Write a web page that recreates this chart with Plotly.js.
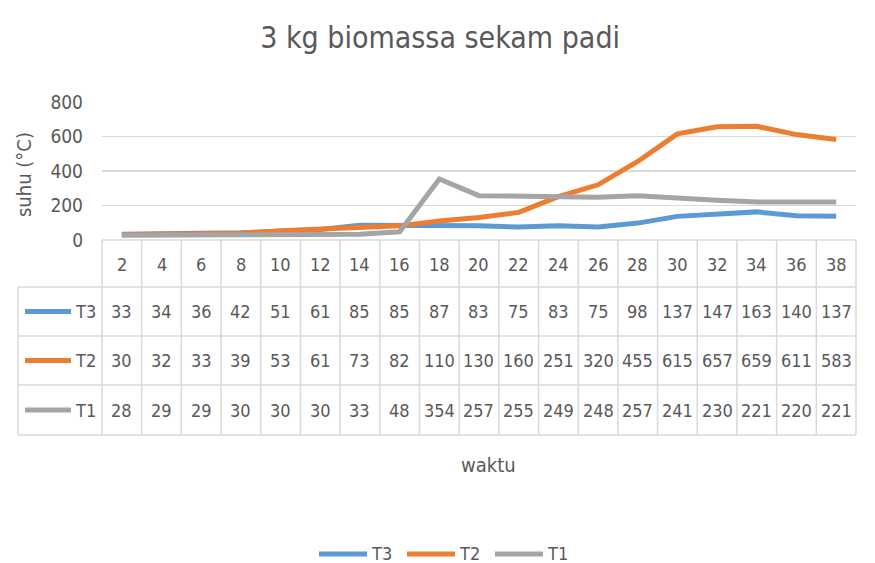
<!DOCTYPE html>
<html><head><meta charset="utf-8">
<script src="https://cdn.plot.ly/plotly-3.0.1.min.js"></script>
<style>html,body{margin:0;padding:0;background:#fff}</style>
</head><body><div id="chart" style="width:875px;height:563px"></div>
<script>
const categories = ["2","4","6","8","10","12","14","16","18","20","22","24","26","28","30","32","34","36","38"];
const T3 = [33,34,36,42,51,61,85,85,87,83,75,83,75,98,137,147,163,140,137];
const T2 = [30,32,33,39,53,61,73,82,110,130,160,251,320,455,615,657,659,611,583];
const T1 = [28,29,29,30,30,30,33,48,354,257,255,249,248,257,241,230,221,220,221];
const seriesNames = ["T3","T2","T1"];
const seriesData = [T3, T2, T1];
const colors = ["#5B9BD5","#ED7D31","#A5A5A5"];

const W = 875, H = 563;
const px = x => x / W;
const py = y => 1 - y / H;
const FONT = "'DejaVu Sans Condensed', Roboto, sans-serif";
const TXT = "#595959";
const GRID = "#d9d9d9";

const plotL = 102, plotR = 856, plotT = 102, plotB = 240;
const tableLeft = 18;
const rowBounds = [240, 287, 336, 385, 435];
const colW = (plotR - plotL) / categories.length;

const traces = seriesData.map((d, i) => ({
  x: categories, y: d, type: "scatter", mode: "lines", name: seriesNames[i],
  line: {color: colors[i], width: 5}, showlegend: false
}));

const shapes = [];
const annotations = [];
function txt(x, y, text, size, extra) {
  annotations.push(Object.assign({x: px(x), y: py(y), xref:"paper", yref:"paper", xanchor:"center", yanchor:"middle", text:text, showarrow:false, font:{family:FONT, size:size, color:TXT}}, extra || {}));
}
function hline(x0, x1, y, color, width) {
  shapes.push({type:"line", xref:"paper", yref:"paper", x0:px(x0), x1:px(x1), y0:py(y), y1:py(y), line:{color:color, width:width}});
}
for (let i = 0; i <= categories.length; i++) {
  const x = plotL + colW * i;
  shapes.push({type:"line", xref:"paper", yref:"paper", x0:px(x), x1:px(x), y0:py(rowBounds[0]), y1:py(rowBounds[4]), line:{color:GRID, width:1.5}});
}
shapes.push({type:"line", xref:"paper", yref:"paper", x0:px(tableLeft), x1:px(tableLeft), y0:py(rowBounds[1]), y1:py(rowBounds[4]), line:{color:GRID, width:1.5}});
for (let r = 1; r < rowBounds.length; r++) hline(tableLeft, plotR, rowBounds[r], GRID, 1.5);
hline(plotL, plotR, rowBounds[0], GRID, 1.5);

categories.forEach((c, j) => {
  txt(plotL + colW*(j+0.5), (rowBounds[0]+rowBounds[1])/2 + 1, c, 18);
});
seriesData.forEach((d, i) => {
  const yc = (rowBounds[i+1]+rowBounds[i+2])/2;
  hline(25, 71, yc, colors[i], 5);
  txt(73, yc, seriesNames[i], 18, {xanchor:"left"});
  d.forEach((v, j) => {
    txt(plotL + colW*(j+0.5), yc, String(v), 18);
  });
});
txt(488, 465, "waktu", 20);
txt(24, 175, "suhu (°C)", 20, {textangle:-90});

// bottom legend
const legX = [319, 407, 495];
seriesNames.forEach((n, i) => {
  hline(legX[i], legX[i] + 48, 554, colors[i], 5);
  txt(legX[i] + 50, 553, n, 18, {xanchor:"left"});
});

const layout = {
  width: W, height: H,
  margin: {l:0, r:0, t:0, b:0, autoexpand:false},
  paper_bgcolor: "#fff", plot_bgcolor: "#fff",
  title: {text: "3 kg biomassa sekam padi", x: 0.503, xanchor:"center", y: py(37), yanchor:"middle", yref:"paper", font:{family:FONT, size:30, color:TXT}},
  xaxis: {type:"category", range:[-0.5, categories.length - 0.5], domain:[px(plotL), px(plotR)], showticklabels:false, showgrid:false, zeroline:false, showline:false, ticks:"", fixedrange:true},
  yaxis: {domain:[py(plotB), py(plotT)], range:[0,800], tickvals:[0,200,400,600,800], showgrid:true, gridcolor:GRID, gridwidth:1.5, zeroline:false, showline:false, ticks:"", ticklabelstandoff: 18, tickfont:{family:FONT, size:19, color:TXT}},
  showlegend: false,
  shapes, annotations
};
Plotly.newPlot("chart", traces, layout, {displayModeBar:false, staticPlot:true});
</script></body></html>
